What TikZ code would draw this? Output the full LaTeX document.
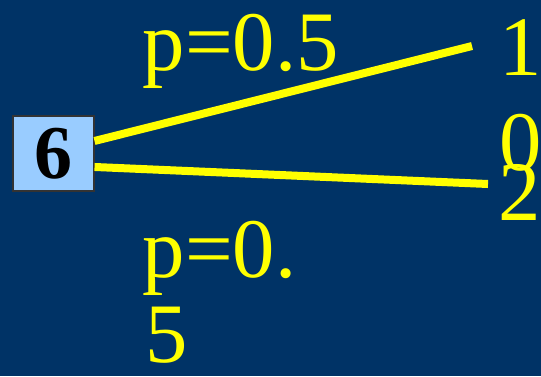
\documentclass[tikz,border=0pt]{standalone}
\usepackage{fontspec}
\setmainfont{Liberation Serif}
\definecolor{bgnavy}{RGB}{0,51,102}
\definecolor{lineyellow}{RGB}{255,255,0}
\definecolor{boxblue}{RGB}{153,204,255}
\begin{document}
\begin{tikzpicture}[x=0.75pt,y=-0.75pt,
  bigtext/.style={text=lineyellow,font=\fontsize{63.5}{63.5}\selectfont,anchor=base west,inner sep=0pt},
  valbox/.style={draw=black!80,line width=0.8pt,fill=boxblue,minimum width=60.75pt,minimum height=56.25pt,inner sep=0pt,font=\fontsize{57}{57}\selectfont\bfseries},
  branch/.style={draw=lineyellow,line width=6pt}]
\fill[bgnavy] (0,0) rectangle (541,376);
\useasboundingbox (0,0) rectangle (541,376);
\node[valbox] (b) at (53.5,153.5) {6};
\coordinate (e1) at (472,46);
\coordinate (e2) at (488,184);
\draw[branch] ([yshift=9.4pt]b.east) -- (e1);
\draw[branch] ([yshift=-10.1pt]b.east) -- (e2);
\node[bigtext] (pu) at (142.5,70) {p=0.5};
\node[bigtext] (t1) at (499,75) {1};
\node[bigtext] (t0) at (499,170) {0};
\node[bigtext] (t2) at (498,220) {2};
\node[bigtext] (pl) at (142.5,277) {p=0.};
\node[bigtext] (pl5) at (145.5,362) {5};
\end{tikzpicture}
\end{document}
